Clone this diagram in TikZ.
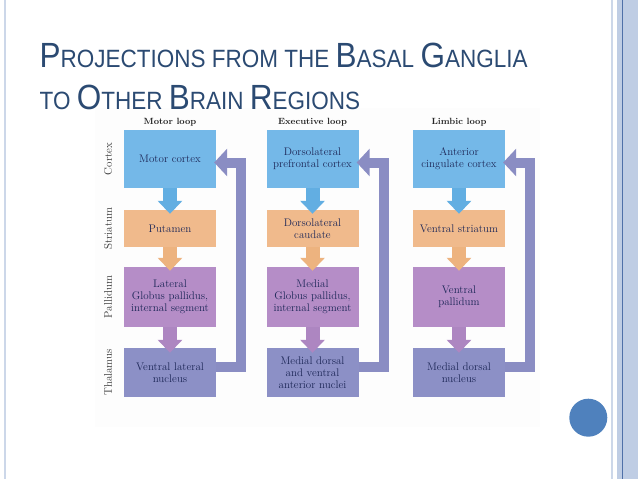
\documentclass[tikz,border=0pt]{standalone}
\usepackage{fontspec}
\newfontfamily\titlefont[FakeStretch=0.9]{Liberation Sans}
\usetikzlibrary{calc,arrows.meta}
\definecolor{titleblue}{HTML}{2B4A72}
\definecolor{boxtext}{HTML}{1E2858}
\definecolor{cortexblue}{HTML}{74B8E8}
\definecolor{cortexarrow}{HTML}{62AEE2}
\definecolor{striatumorange}{HTML}{F0BA8C}
\definecolor{striatumarrow}{HTML}{EDB37F}
\definecolor{pallidumpurple}{HTML}{B58DC7}
\definecolor{pallidumarrow}{HTML}{AD86C1}
\definecolor{thalamusblue}{HTML}{8C90C6}
\definecolor{loopblue}{HTML}{8A8DC3}
\definecolor{stripelight}{HTML}{BFCDE4}
\definecolor{stripedark}{HTML}{4F70A8}
\definecolor{dotblue}{HTML}{4F81BD}
\newcommand{\capL}[1]{{\fontsize{35}{40}\selectfont #1}}

\begin{document}
\begin{tikzpicture}[x=1pt,y=-1pt]
            \tikzstyle{region}=[minimum width=92pt, inner sep=1pt, align=center, text=boxtext, font=\fontsize{11}{12}\selectfont]
            \tikzstyle{down}=[line width=14pt, -{Triangle[width=24pt,length=13pt]}]
            \tikzstyle{feedback}=[draw=loopblue, line width=10pt, line join=miter, -{Triangle[width=27pt,length=13pt]}]
            \tikzstyle{side}=[rotate=90, text=black!80, font=\fontsize{11}{12}\selectfont]
            \tikzstyle{looptitle}=[text=black!85, font=\fontsize{9}{11}\selectfont\bfseries]
            \useasboundingbox (0,0) rectangle (638,479);
            % Slide frame
            \fill[stripelight!80] (4,0) rectangle (6,479);
            \fill[stripelight!80] (610.7,0) rectangle (613.3,479);
            \fill[stripelight] (616.7,0) rectangle (638,479);
            \draw[stripedark, line width=1.1pt] (622.3,0) -- (622.3,479);
            \fill[dotblue] (588.3,417.7) circle (19);
            \fill[black!0.7] (95,108) rectangle (540,427);
            % Title
            \node[anchor=base west, inner sep=0pt, text=titleblue, font=\titlefont\fontsize{25}{40}\selectfont] (title1) at (39.5,67) {\capL{P}ROJECTIONS FROM THE \capL{B}ASAL \capL{G}ANGLIA};
            \node[anchor=base west, inner sep=0pt, text=titleblue, font=\titlefont\fontsize{25}{40}\selectfont] (title2) at (39.5,109) {TO \capL{O}THER \capL{B}RAIN \capL{R}EGIONS};
            % Row labels
            \node[side] (lctx) at (108,159) {Cortex};
            \node[side] (lstr) at (108,228.5) {Striatum};
            \node[side] (lpal) at (108,297) {Pallidum};
            \node[side] (ltha) at (108,372.5) {Thalamus};
            % Loop titles
            \node[looptitle] (loop1) at (170,122) {Motor loop};
            \node[looptitle] (loop2) at (312.5,122) {Executive loop};
            \node[looptitle] (loop3) at (459,122) {Limbic loop};
            % Motor loop
            \node[region, fill=cortexblue, minimum height=58pt] (ctx1) at (170,159) {Motor cortex};
            \node[region, fill=striatumorange, minimum height=37pt] (str1) at (170,228.5) {Putamen};
            \node[region, fill=pallidumpurple, minimum height=60pt] (pal1) at (170,297) {Lateral\\Globus pallidus,\\internal segment};
            \node[region, fill=thalamusblue, minimum height=49pt] (tha1) at (170,372.5) {Ventral lateral\\nucleus};
            % Executive loop
            \node[region, fill=cortexblue, minimum height=58pt] (ctx2) at (312.5,159) {Dorsolateral\\prefrontal cortex};
            \node[region, fill=striatumorange, minimum height=37pt] (str2) at (312.5,228.5) {Dorsolateral\\caudate};
            \node[region, fill=pallidumpurple, minimum height=60pt] (pal2) at (312.5,297) {Medial\\Globus pallidus,\\internal segment};
            \node[region, fill=thalamusblue, minimum height=49pt] (tha2) at (312.5,372.5) {Medial dorsal\\and ventral\\anterior nuclei};
            % Limbic loop
            \node[region, fill=cortexblue, minimum height=58pt] (ctx3) at (459,159) {Anterior\\cingulate cortex};
            \node[region, fill=striatumorange, minimum height=37pt] (str3) at (459,228.5) {Ventral striatum};
            \node[region, fill=pallidumpurple, minimum height=60pt] (pal3) at (459,297) {Ventral\\pallidum};
            \node[region, fill=thalamusblue, minimum height=49pt] (tha3) at (459,372.5) {Medial dorsal\\nucleus};
            % Arrows
            \foreach \i in {1,2,3} {
                \draw[down, draw=cortexarrow] (ctx\i.south) -- ($(str\i.north)+(0,4)$);
                \draw[down, draw=striatumarrow] (str\i.south) -- ($(pal\i.north)+(0,4)$);
                \draw[down, draw=pallidumarrow] (pal\i.south) -- ($(tha\i.north)+(0,5)$);
                \draw[feedback] ($(tha\i.east)+(0,-6)$) -| ($(ctx\i.east)+(25,3.5)$) -- ($(ctx\i.east)+(-2,3.5)$);
            }
        \end{tikzpicture}
\end{document}
